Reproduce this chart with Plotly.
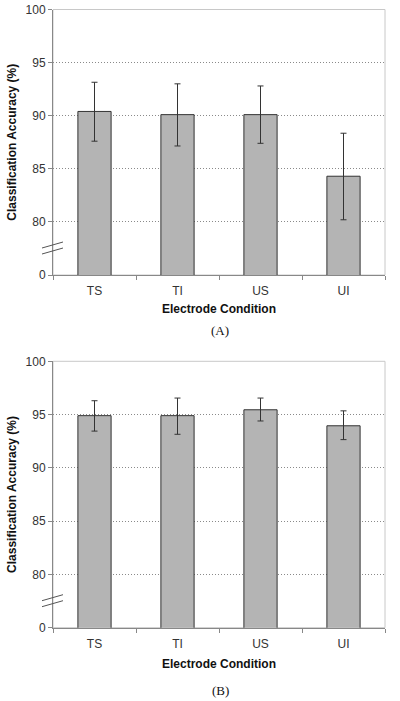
import plotly.graph_objects as go

categories = ["TS", "TI", "US", "UI"]
acc_a = [90.4, 90.1, 90.1, 84.3]
err_a_plus = [2.75, 2.9, 2.7, 4.05]
err_a_minus = [2.8, 2.95, 2.7, 4.1]
acc_b = [94.9, 94.9, 95.45, 93.95]
err_b_plus = [1.4, 1.65, 1.1, 1.4]
err_b_minus = [1.45, 1.75, 1.05, 1.3]
y_tickvals = [75, 80, 85, 90, 95, 100]
y_ticktext = ["0", "80", "85", "90", "95", "100"]
panel_labels = ["(A)", "(B)"]

W, H = 400, 701
x0, x1 = 53, 385
panels = [(9.5, 275.0), (361.3, 627.7)]
label_gap = [55, 63]
title_standoff = [7, 9]

def px(p):
    return p / W

def py(p):
    return 1 - p / H

fig = go.Figure()
tick_font = dict(family="Arial, Liberation Sans, sans-serif", size=12, color="#333333")
title_font = dict(family="Arial, Liberation Sans, sans-serif", size=12, color="#111111")

data = [(acc_a, err_a_plus, err_a_minus), (acc_b, err_b_plus, err_b_minus)]
for i, ((top, bot), (vals, ep, em)) in enumerate(zip(panels, data)):
    n = "" if i == 0 else str(i + 1)
    fig.add_trace(go.Bar(
        x=categories, y=vals, width=0.4,
        marker=dict(color="#b4b4b4", line=dict(color="#333333", width=1)),
        error_y=dict(type="data", array=ep, arrayminus=em, visible=True,
                     color="#333333", thickness=1, width=3),
        xaxis="x" + n, yaxis="y" + n, showlegend=False, hoverinfo="skip",
    ))
    fig.layout["xaxis" + n] = dict(
        domain=[px(x0), px(x1)], anchor="y" + n, type="category", automargin=False,
        range=[-0.5, 3.5], tickson="boundaries", ticks="outside", ticklen=4,
        ticklabelstandoff=5, ticklabeloverflow="allow",
        tickcolor="#888888", showline=True, linecolor="#888888", linewidth=1,
        showgrid=False, tickfont=tick_font,
        title=dict(text="<b>Electrode Condition</b>", font=title_font, standoff=title_standoff[i]),
    )
    fig.layout["yaxis" + n] = dict(
        domain=[py(bot), py(top)], anchor="x" + n, range=[75, 100], automargin=False,
        tickvals=y_tickvals, ticktext=y_ticktext, ticks="outside", ticklen=4,
        ticklabeloverflow="allow",
        tickcolor="#888888", showline=True, linecolor="#888888", linewidth=1,
        showgrid=True, gridcolor="#8a8a8a", griddash="1px,2px", gridwidth=1,
        zeroline=False, tickfont=tick_font,
        title=dict(text="<b>Classification Accuracy (%)</b>", font=title_font, standoff=6),
    )
    # light plot-area box (top/right border)
    fig.add_shape(type="rect", xref="paper", yref="paper",
                  x0=px(x0), x1=px(x1), y0=py(bot), y1=py(top),
                  line=dict(color="#c8c8c8", width=1), layer="below")
    # axis break marks
    ym = bot - 27
    for dy in (-3, 3):
        fig.add_shape(type="line", xref="paper", yref="paper",
                      x0=px(42), x1=px(63), y0=py(ym + dy + 3), y1=py(ym + dy - 3),
                      line=dict(color="#555555", width=1))
    fig.add_annotation(text=panel_labels[i], xref="paper", yref="paper",
                       x=px(220), y=py(bot + label_gap[i]), yanchor="middle", showarrow=False,
                       font=dict(family="Liberation Serif, Times New Roman, serif", size=13, color="#111111"))

fig.update_layout(
    width=W, height=H, margin=dict(l=0, r=0, t=0, b=0),
    paper_bgcolor="white", plot_bgcolor="white", bargap=0.6,
)
fig.write_html("out.html", config={"displayModeBar": False, "staticPlot": True},
               post_script="document.documentElement.style.margin='0';document.body.style.margin='0';document.body.style.overflow='hidden';")
